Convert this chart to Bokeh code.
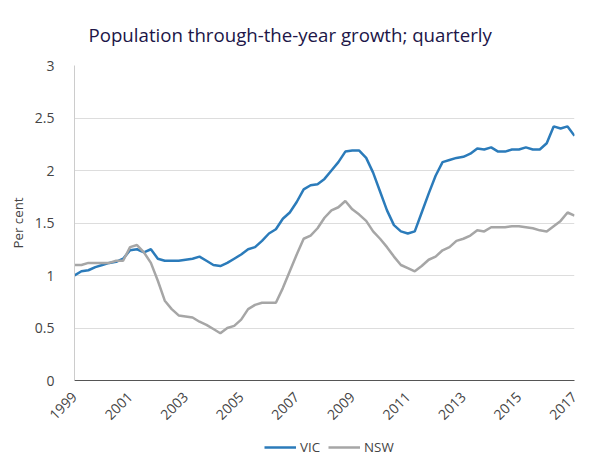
from bokeh.plotting import figure
from bokeh.models import Legend, LegendItem, FixedTicker, Range1d
from bokeh.layouts import column
from bokeh.embed import file_html
from bokeh.resources import INLINE
import math

# quarterly values, 1999 Q1 .. 2017 Q1
start_year = 1999
vic = [1.00, 1.04, 1.05, 1.08, 1.10, 1.12, 1.13, 1.16, 1.24, 1.25, 1.22, 1.25,
       1.16, 1.14, 1.14, 1.14, 1.15, 1.16, 1.18, 1.14, 1.10, 1.09, 1.12, 1.16,
       1.20, 1.25, 1.27, 1.33, 1.40, 1.44, 1.54, 1.60, 1.70, 1.82, 1.86, 1.87,
       1.92, 2.00, 2.08, 2.18, 2.19, 2.19, 2.12, 1.98, 1.80, 1.62, 1.48, 1.42,
       1.40, 1.42, 1.60, 1.78, 1.95, 2.08, 2.10, 2.12, 2.13, 2.16, 2.21, 2.20,
       2.22, 2.18, 2.18, 2.20, 2.20, 2.22, 2.20, 2.20, 2.26, 2.42, 2.40, 2.42,
       2.33]
nsw = [1.10, 1.10, 1.12, 1.12, 1.12, 1.12, 1.14, 1.14, 1.27, 1.29, 1.22, 1.12,
       0.95, 0.76, 0.68, 0.62, 0.61, 0.60, 0.56, 0.53, 0.49, 0.45, 0.50, 0.52,
       0.58, 0.68, 0.72, 0.74, 0.74, 0.74, 0.88, 1.04, 1.20, 1.35, 1.38, 1.45,
       1.55, 1.62, 1.65, 1.71, 1.63, 1.58, 1.52, 1.42, 1.35, 1.27, 1.18, 1.10,
       1.07, 1.04, 1.09, 1.15, 1.18, 1.24, 1.27, 1.33, 1.35, 1.38, 1.43, 1.42,
       1.46, 1.46, 1.46, 1.47, 1.47, 1.46, 1.45, 1.43, 1.42, 1.47, 1.52, 1.60,
       1.57]
x = [start_year + i / 4 for i in range(len(vic))]
year_ticks = list(range(1999, 2018, 2))
y_ticks = [0, 0.5, 1, 1.5, 2, 2.5, 3]
VIC_COL = "#2b7bba"
NSW_COL = "#a6a6a6"

p = figure(width=586, height=427, output_backend="svg", toolbar_location=None,
           x_range=(1999, 2017), y_range=(0, 3),
           title="Population through-the-year growth; quarterly",
           y_axis_label="Per cent", min_border_bottom=10, min_border_right=12,
           min_border_left=74, min_border_top=8)
p.title.text_color = "#201547"
p.title.text_font = "Open Sans"
p.title.text_font_size = "14pt"
p.title.text_font_style = "normal"
p.title.offset = 14
p.title.standoff = 38

p.outline_line_color = None
p.xgrid.grid_line_color = None
p.ygrid.grid_line_color = "#dddddd"
p.yaxis.ticker = FixedTicker(ticks=y_ticks)
p.xaxis.ticker = FixedTicker(ticks=year_ticks)
p.xaxis.major_label_orientation = math.pi / 4
for ax in (p.xaxis, p.yaxis):
    ax.major_label_text_font = "Open Sans"
    ax.major_label_text_font_size = "10.5pt"
    ax.major_label_text_color = "#444444"
    ax.minor_tick_line_color = None
    ax.major_tick_line_color = None
p.yaxis.major_label_standoff = 14
p.xaxis.major_label_standoff = 8
p.yaxis.axis_line_color = "#cccccc"
p.xaxis.axis_line_color = "#555555"
p.yaxis.axis_label_text_font = "Open Sans"
p.yaxis.axis_label_text_font_style = "normal"
p.yaxis.axis_label_text_font_size = "10pt"
p.yaxis.axis_label_text_color = "#444444"

p.line(x, vic, line_color=VIC_COL, line_width=2.5)
p.line(x, nsw, line_color=NSW_COL, line_width=2.5)

# separate strip for the legend, below the chart
lf = figure(width=586, height=30, output_backend="svg", toolbar_location=None,
            x_axis_type=None, y_axis_type=None, outline_line_color=None,
            min_border=0, x_range=Range1d(0, 1), y_range=Range1d(0, 1))
lf.grid.visible = False
l1 = lf.line([5, 6], [5, 6], line_color=VIC_COL, line_width=2.5)
l2 = lf.line([5, 6], [5, 6], line_color=NSW_COL, line_width=2.5)
legend = Legend(items=[LegendItem(label="VIC", renderers=[l1]),
                       LegendItem(label="NSW", renderers=[l2])],
                orientation="horizontal", location=(190, 0),
                border_line_color=None, background_fill_alpha=0,
                label_text_font="Open Sans", label_text_color="#444444",
                label_text_font_size="10pt", glyph_width=32, spacing=8,
                label_standoff=4, margin=0, padding=2)
lf.add_layout(legend, "center")

page = column(p, lf, spacing=0)
open("out.html", "w").write(file_html(page, INLINE))
